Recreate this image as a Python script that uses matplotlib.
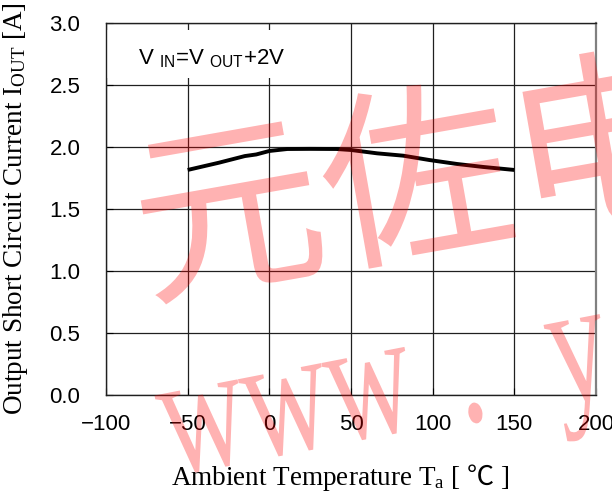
import numpy as np
import matplotlib
matplotlib.use("Agg")
import matplotlib.pyplot as plt
from matplotlib.patches import PathPatch, Rectangle
from matplotlib.textpath import TextPath
from matplotlib.font_manager import FontProperties
from matplotlib.transforms import Affine2D, IdentityTransform

# curve
temps = [-50, -31, -15, -8, 0, 11, 25, 41, 50, 66, 82, 98, 115, 131, 150]
current = [1.815, 1.873, 1.927, 1.94, 1.968, 1.984, 1.985, 1.984, 1.976,
           1.949, 1.93, 1.895, 1.863, 1.839, 1.815]

xticks = [-100, -50, 0, 50, 100, 150, 200]
yticks = [0.0, 0.5, 1.0, 1.5, 2.0, 2.5, 3.0]

plt.rcParams['mathtext.fontset'] = 'custom'
plt.rcParams['mathtext.rm'] = 'Liberation Serif'
plt.rcParams['mathtext.sf'] = 'Liberation Sans'
plt.rcParams['mathtext.tt'] = 'Noto Sans CJK JP'   # only used for the degree sign
plt.rcParams['xtick.direction'] = 'in'
plt.rcParams['ytick.direction'] = 'in'
plt.rcParams['xtick.major.pad'] = 13.5
plt.rcParams['ytick.major.pad'] = 18.5
plt.rcParams['xtick.major.size'] = 5
plt.rcParams['ytick.major.size'] = 5

fig = plt.figure(figsize=(6.12, 4.97), dpi=100)
ax = fig.add_axes([0.1732, 0.2052, 0.8007, 0.7485])

ax.plot(temps, current, color='black', lw=2.8, zorder=4, solid_capstyle='butt')

ax.set_xlim(-100, 200)
ax.set_ylim(0, 3.0)
ax.set_xticks(xticks)
ax.set_yticks(yticks)
ax.set_xticklabels([str(t).replace('-', '\u2212') for t in xticks],
                   family='Liberation Sans', fontsize=16)
ax.set_yticklabels(['%.1f' % v for v in yticks], family='Liberation Sans', fontsize=16)
ax.grid(True, color='#202020', lw=0.9)
ax.set_axisbelow(True)
for s in ax.spines.values():
    s.set_color('#202020')
    s.set_linewidth(1.0)
ax.spines['right'].set_color('#808080')
ax.spines['right'].set_linewidth(1.6)

# white patch behind the condition label
ax.add_patch(Rectangle((0.002, 0.852), 0.435, 0.129, transform=ax.transAxes,
                       fc='white', ec='none', zorder=2))
ax.text(0.065, 0.903, r'V $_{\mathsf{IN}}$=V $_{\mathsf{OUT}}$+2V', transform=ax.transAxes,
        fontsize=16, family='Liberation Sans', va='center', ha='left', zorder=3)

ax.set_ylabel(r'Output Short Circuit Current $\mathrm{I_{OUT}}$ [A]',
              family='Liberation Serif', fontsize=19.5)
ax.yaxis.set_label_coords(-0.155, 0.5)
ax.set_xlabel(r'Ambient Temperature $\mathrm{T_a}$ [ $\mathtt{℃}$ ]',
              family='Liberation Serif', fontsize=19.5)
ax.xaxis.set_label_coords(0.478, -0.18)


# pink watermark over the whole picture, drawn in pixel coordinates
def stamp(chars, offsets, origin, em, rot, family):
    fp = FontProperties(family=family)
    for ch, (dx, dy) in zip(chars, offsets):
        tp = TextPath((0, 0), ch, size=1, prop=fp)
        tr = Affine2D().scale(em[0], em[1]).translate(dx, dy).rotate_deg(rot).translate(*origin)
        fig.add_artist(PathPatch(tr.transform_path(tp), transform=IdentityTransform(),
                                 fc='red', ec='none', alpha=0.3, zorder=10))


stamp(['元', '佐', '电'], [(0, 0), (191, 0), (382, 0)], (145.6, 203.9), (191, 191), 10,
      'Noto Sans CJK SC')
stamp(['w', 'w', 'w', '.', 'y'], [(0, 0), (85, 0), (170, 0), (297, -4.7), (394, -5)],
      (170, 21.3), (118, 178), 11, 'Liberation Serif')

fig.savefig('out.png', dpi=100)
